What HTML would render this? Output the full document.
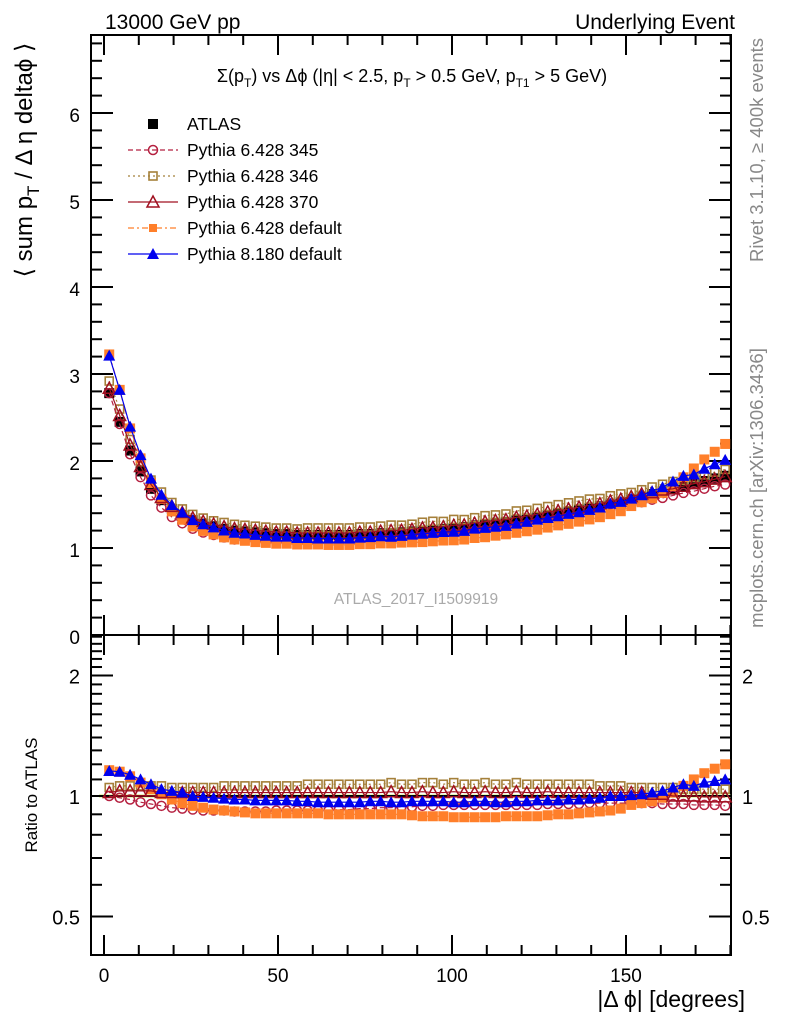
<!DOCTYPE html>
<html><head><meta charset="utf-8">
<style>
html,body{margin:0;padding:0;background:#fff;}
svg{display:block;font-family:"Liberation Sans",sans-serif;}
</style></head>
<body>
<svg id="c" width="786" height="1024" viewBox="0 0 786 1024" xmlns="http://www.w3.org/2000/svg">
<text x="105" y="29" font-size="21">13000 GeV pp</text>
<text x="735" y="29" font-size="21" text-anchor="end">Underlying Event</text>
<text x="412" y="82" font-size="18" text-anchor="middle">Σ(p<tspan font-size="12" dy="5">T</tspan><tspan dy="-5">) vs Δϕ (|η| &lt; 2.5, p</tspan><tspan font-size="12" dy="5">T</tspan><tspan dy="-5"> &gt; 0.5 GeV, p</tspan><tspan font-size="12" dy="5">T1</tspan><tspan dy="-5"> &gt; 5 GeV)</tspan></text>
<text transform="translate(32,160) rotate(-90)" font-size="24" text-anchor="middle">⟨ sum p<tspan font-size="17" dy="7">T</tspan><tspan dy="-7"> / Δ η deltaϕ ⟩</tspan></text>
<text transform="translate(37,795) rotate(-90)" font-size="17" text-anchor="middle">Ratio to ATLAS</text>
<text x="745" y="1007" font-size="23" text-anchor="end">|Δ ϕ| [degrees]</text>
<text transform="translate(763,150) rotate(-90)" font-size="18.5" fill="#888" text-anchor="middle">Rivet 3.1.10, ≥ 400k events</text>
<text transform="translate(763,488) rotate(-90)" font-size="18.5" fill="#888" text-anchor="middle">mcplots.cern.ch [arXiv:1306.3436]</text>
<text x="416" y="604" font-size="15.5" fill="#aaa" text-anchor="middle">ATLAS_2017_I1509919</text>
<g id="g"></g>
</svg>
<script>
const xCenters=[];for(let i=0;i<60;i++)xCenters.push(1.5+3*i);
const atlas=[2.78,2.45,2.12,1.88,1.68,1.55,1.45,1.38,1.32,1.28,
1.25,1.22,1.20,1.19,1.18,1.17,1.16,1.16,1.15,1.15,
1.15,1.15,1.15,1.15,1.16,1.16,1.17,1.17,1.18,1.19,
1.20,1.21,1.22,1.23,1.24,1.26,1.27,1.29,1.30,1.32,
1.34,1.36,1.38,1.40,1.42,1.44,1.46,1.48,1.51,1.53,
1.56,1.59,1.62,1.65,1.68,1.71,1.74,1.77,1.80,1.83];
const r345=[1.0,0.99,0.98,0.965,0.955,0.945,0.935,0.93,0.925,0.92,
0.92,0.92,0.915,0.915,0.915,0.915,0.92,0.92,0.92,0.92,
0.92,0.92,0.925,0.925,0.93,0.93,0.935,0.935,0.94,0.94,
0.945,0.945,0.95,0.95,0.95,0.95,0.95,0.95,0.95,0.95,
0.95,0.95,0.955,0.955,0.955,0.955,0.96,0.96,0.96,0.96,
0.96,0.96,0.96,0.955,0.955,0.955,0.95,0.95,0.95,0.945];
const r346=[1.05,1.06,1.06,1.06,1.06,1.06,1.05,1.05,1.05,1.05,
1.05,1.06,1.06,1.06,1.06,1.06,1.06,1.06,1.06,1.07,
1.07,1.07,1.07,1.07,1.07,1.07,1.07,1.08,1.07,1.07,
1.08,1.08,1.07,1.08,1.07,1.07,1.08,1.07,1.07,1.08,
1.07,1.07,1.07,1.07,1.07,1.07,1.07,1.06,1.06,1.06,
1.05,1.05,1.05,1.05,1.05,1.04,1.04,1.04,1.04,1.04];
const r370=[1.02,1.03,1.03,1.03,1.03,1.02,1.02,1.02,1.02,1.02,
1.02,1.02,1.02,1.02,1.02,1.02,1.02,1.02,1.02,1.02,
1.02,1.02,1.02,1.02,1.02,1.02,1.02,1.025,1.02,1.02,
1.025,1.02,1.02,1.025,1.02,1.02,1.025,1.02,1.02,1.025,
1.02,1.02,1.025,1.02,1.02,1.02,1.02,1.02,1.02,1.02,
1.02,1.02,1.01,1.01,1.0,1.0,1.0,0.995,0.995,0.995];
const rDef6=[1.16,1.15,1.12,1.08,1.04,1.01,0.98,0.96,0.945,0.935,
0.925,0.92,0.915,0.91,0.905,0.905,0.905,0.905,0.905,0.905,
0.905,0.9,0.9,0.9,0.9,0.9,0.9,0.9,0.9,0.895,
0.89,0.89,0.89,0.885,0.885,0.885,0.885,0.885,0.89,0.89,
0.89,0.89,0.895,0.9,0.9,0.905,0.91,0.915,0.92,0.93,
0.95,0.96,0.97,0.99,1.02,1.06,1.10,1.14,1.17,1.20];
const rP8=[1.155,1.15,1.13,1.10,1.07,1.04,1.03,1.02,1.00,0.995,
0.99,0.985,0.98,0.98,0.975,0.975,0.975,0.975,0.97,0.97,
0.965,0.965,0.965,0.965,0.965,0.97,0.97,0.965,0.965,0.97,
0.97,0.97,0.97,0.965,0.965,0.97,0.97,0.965,0.965,0.97,
0.97,0.975,0.975,0.975,0.98,0.98,0.985,0.99,1.0,1.0,
1.005,1.01,1.02,1.03,1.05,1.07,1.06,1.08,1.09,1.10];
const legendLabels=["ATLAS","Pythia 6.428 345","Pythia 6.428 346","Pythia 6.428 370","Pythia 6.428 default","Pythia 8.180 default"];
const xTicks=[0,50,100,150];
const yTicks=[0,1,2,3,4,5,6];
const rTicks=[0.5,1,2];

const NS="http://www.w3.org/2000/svg";
const g=document.getElementById('g');
const L=91,R=731,T=35,MB=635,RB=955;
const X=v=>104+v*3.48;
const Y=v=>635-v*87;
const RY=v=>796-Math.log2(v)*120.5;
function el(t,a,p){const e=document.createElementNS(NS,t);for(const k in a)e.setAttribute(k,a[k]);(p||g).appendChild(e);return e;}

let f=el('rect',{x:L,y:T,width:R-L,height:MB-T,fill:'none',stroke:'#000','stroke-width':2});


f=el('rect',{x:L,y:MB,width:R-L,height:RB-MB,fill:'none',stroke:'#000','stroke-width':2});



for(let v=0;v<=180;v+=10){
  const major=v%50===0;const len=major?20:10;const x=X(v);
  [[MB,-1],[RB,-1],[T,1],[MB,1]].forEach(([y0,d])=>{el('line',{x1:x,x2:x,y1:y0,y2:y0+d*len,stroke:'#000','stroke-width':2});});
}
xTicks.forEach(v=>{const t=el('text',{x:X(v),y:982,'font-size':19,'text-anchor':'middle'});t.textContent=v;

});
for(let i=0;i<=34;i++){const v=i*0.2;const y=Y(v);if(y<T)continue;const major=i%5===0;const len=major?22:11;
 el('line',{x1:L,x2:L+len,y1:y,y2:y,stroke:'#000','stroke-width':2});el('line',{x1:R,x2:R-len,y1:y,y2:y,stroke:'#000','stroke-width':2});}
yTicks.forEach(v=>{const t=el('text',{x:80,y:Y(v)+9,'font-size':19,'text-anchor':'end'});t.textContent=v;

});
const rminor=[0.4,0.5,0.6,0.7,0.8,0.9,1,1.1,1.2,1.3,1.4,1.5,1.6,1.7,1.8,1.9,2,2.1,2.2,2.3,2.4,2.5];
rminor.forEach(v=>{const y=RY(v);if(y<MB||y>RB)return;const major=rTicks.includes(v);const len=major?22:11;
 el('line',{x1:L,x2:L+len,y1:y,y2:y,stroke:'#000','stroke-width':2});el('line',{x1:R,x2:R-len,y1:y,y2:y,stroke:'#000','stroke-width':2});});
rTicks.forEach(v=>{const lab=String(v);[[80,'end'],[742,'start']].forEach(([x,a])=>{const t=el('text',{x:x,y:RY(v)+8,'font-size':20,'text-anchor':a});t.textContent=lab;

});});
el('rect',{x:X(0)-5,y:RY(1.01),width:X(180)-X(0)+5,height:RY(0.99)-RY(1.01),fill:'#ddf5a0'});
el('line',{x1:L,x2:R,y1:RY(1),y2:RY(1),stroke:'#000','stroke-width':2});

function marker(p,type,x,y,col,s){
 if(type==='sq') return el('rect',{x:x-s/2,y:y-s/2,width:s,height:s,fill:col},p);
 if(type==='osq') return el('rect',{x:x-s/2+1,y:y-s/2+1,width:s-2,height:s-2,fill:'none',stroke:col,'stroke-width':1.6},p);
 if(type==='oc') return el('circle',{cx:x,cy:y,r:s/2-0.5,fill:'none',stroke:col,'stroke-width':1.5},p);
 if(type==='otri') return el('polygon',{points:`${x},${y-s/2-1} ${x-s/2-1},${y+s/2} ${x+s/2+1},${y+s/2}`,fill:'none',stroke:col,'stroke-width':1.5},p);
 if(type==='tri') return el('polygon',{points:`${x},${y-s/2-1} ${x-s/2-1},${y+s/2} ${x+s/2+1},${y+s/2}`,fill:col},p);
}
const series=[
 {name:'pythia-6428-346',r:r346,col:'#a5803a',m:'osq',dash:'2,3'},
 {name:'pythia-6428-345',r:r345,col:'#b52040',m:'oc',dash:'5,3'},
 {name:'pythia-6428-default',r:rDef6,col:'#ff7f2a',m:'sq',dash:'6,3,2,3'},
 {name:'pythia-6428-370',r:r370,col:'#a01020',m:'otri',dash:''},
 {name:'pythia-8180-default',r:rP8,col:'#0000ee',m:'tri',dash:''}];
const ag=el('g',{});


atlas.forEach((v,i)=>{el('line',{x1:X(xCenters[i]),x2:X(xCenters[i]),y1:Y(v*1.01),y2:Y(v*0.99),stroke:'#000'},ag);
 const m=marker(ag,'sq',X(xCenters[i]),Y(v),'#000',10);
 
 });
series.forEach(s=>{
 const gm=el('g',{});
 
 
 const gr=el('g',{});
 
 
 const pm=xCenters.map((x,i)=>X(x)+','+Y(atlas[i]*s.r[i])).join(' ');
 const pr=xCenters.map((x,i)=>X(x)+','+RY(s.r[i])).join(' ');
 el('polyline',{points:pm,fill:'none',stroke:s.col,'stroke-width':1.2,'stroke-dasharray':s.dash},gm);
 el('polyline',{points:pr,fill:'none',stroke:s.col,'stroke-width':1.2,'stroke-dasharray':s.dash},gr);
 xCenters.forEach((x,i)=>{
  const a=marker(gm,s.m,X(x),Y(atlas[i]*s.r[i]),s.col,10);
  
  
  const b=marker(gr,s.m,X(x),RY(s.r[i]),s.col,10);
  
  
 });
});
const leg=el('g',{});


const legStyle=[{m:'sq',col:'#000',dash:null},{m:'oc',col:'#b52040',dash:'5,3'},{m:'osq',col:'#a5803a',dash:'2,3'},{m:'otri',col:'#a01020',dash:''},{m:'sq',col:'#ff7f2a',dash:'6,3,2,3'},{m:'tri',col:'#0000ee',dash:''}];
legendLabels.forEach((lab,i)=>{
 const y=124+i*26;const e=el('g',{},leg);
 
 
 const st=legStyle[i];
 if(st.dash!==null) el('line',{x1:128,x2:178,y1:y,y2:y,stroke:st.col,'stroke-width':1.2,'stroke-dasharray':st.dash},e);
 marker(e,st.m,153,y,st.col,i===4?8:10);
 const t=el('text',{x:187,y:y+6,'font-size':17.5},e);t.textContent=lab;
});
</script>
</body></html>
